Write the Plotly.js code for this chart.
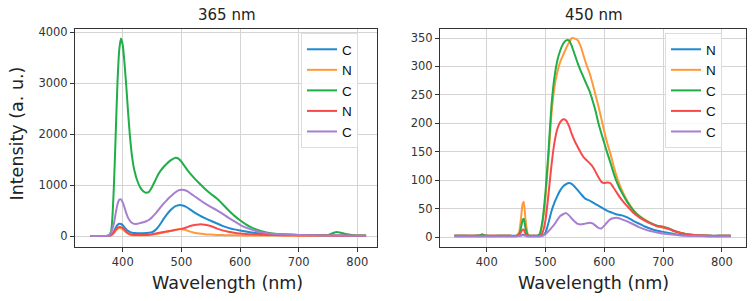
<!DOCTYPE html>
<html>
<head>
<meta charset="utf-8">
<script src="https://cdn.plot.ly/plotly-3.0.1.min.js"></script>
<style>html,body{margin:0;padding:0;background:#fff;}#chart{width:754px;height:301px;}</style>
</head>
<body>
<div id="chart"></div>
<script>
// ---- Panel A: excitation 365 nm ----
const wavelengthA = [345,360,370,375,380,385,388,391,394,397,400,403,406,409,412,416,420,425,430,435,440,445,450,455,460,465,470,475,480,485,490,495,500,505,510,520,530,540,550,560,570,580,590,600,610,620,630,640,650,660,680,700,720,740,750,755,760,765,770,775,780,790,800,815];
const blueA   = [0,0,0,2,20,90,160,215,240,235,210,170,130,100,80,65,58,55,55,55,58,62,75,110,170,250,340,420,490,545,585,605,605,590,560,480,410,350,300,250,200,160,130,110,90,70,55,45,38,32,25,20,15,12,10,10,10,9,9,8,8,7,6,5];
const orangeA = [0,0,0,2,12,60,105,140,155,150,130,100,70,45,30,20,15,15,15,15,15,18,25,35,45,58,70,82,95,110,122,132,135,125,105,70,48,35,28,22,18,15,13,12,11,10,9,9,8,8,7,6,6,5,5,5,5,5,5,5,5,5,5,5];
const greenA  = [0,0,0,5,80,1000,2000,3000,3650,3880,3750,3400,2950,2450,2000,1550,1280,1080,950,880,850,870,960,1080,1200,1290,1360,1420,1470,1510,1535,1520,1460,1380,1300,1160,1040,930,830,740,630,510,400,310,230,165,120,85,60,45,30,22,18,15,20,40,65,80,70,55,40,20,12,8];
const redA    = [0,0,0,2,15,70,120,160,178,175,155,120,85,55,38,25,20,18,18,18,20,25,35,45,58,70,80,90,100,110,120,130,140,155,175,210,228,222,195,150,110,85,65,50,40,33,28,24,20,18,14,12,10,8,8,8,7,7,7,6,6,6,5,5];
const purpleA = [0,0,0,5,60,250,450,620,710,720,660,560,450,360,300,255,238,240,255,270,290,320,370,430,500,570,640,700,760,810,860,895,910,905,880,800,720,640,570,510,440,360,290,220,165,125,90,65,50,40,28,20,15,12,10,10,10,10,10,9,8,7,6,5];
const namesA  = ["C","N","C","N","C"];

// ---- Panel B: excitation 450 nm ----
const wavelengthB = [345,360,380,388,392,396,400,420,440,450,455,458,461,463,466,470,475,480,485,490,495,500,505,510,515,520,525,530,535,540,545,550,555,560,565,570,575,580,585,590,595,600,605,610,615,620,625,630,640,650,660,670,680,690,700,710,720,740,760,780,800,815];
const blueB   = [2,2,2,2,2,2,2,2,2,2,2,3,4,4,3,2,2,2,2,2,3,8,25,45,60,72,82,89,93,95,93,88,82,76,70,66,64,61,58,55,52,49,46,44,42,40,39,38,34,28,23,18,14,11,9,7,5,3,2,2,2,2];
const orangeB = [2,2,2,2,2,2,2,2,2,2,8,30,58,62,30,5,2,2,2,4,25,70,140,215,262,290,308,320,332,342,350,349,346,335,318,302,288,270,250,230,208,185,165,148,128,110,95,82,62,47,37,30,24,19,16,14,10,5,3,2,2,2];
const greenB  = [2,2,2,3,5,3,2,2,2,2,5,15,30,32,15,3,2,2,2,5,30,80,150,230,280,310,328,340,346,346,335,320,305,292,280,268,256,240,222,200,182,165,148,132,115,100,88,78,60,46,36,29,24,20,18,15,10,5,3,2,2,2];
const redB    = [2,2,2,2,2,2,2,2,2,2,4,8,13,13,6,2,2,2,2,2,8,30,75,125,165,190,202,207,205,195,180,168,158,148,140,135,130,124,115,105,97,95,96,95,88,80,72,65,53,42,34,28,23,19,17,14,10,5,3,2,2,2];
const purpleB = [1,1,1,1,1,1,1,1,1,1,2,2,3,3,2,1,1,1,1,1,2,5,10,16,22,30,37,40,42,38,32,27,23,22,23,24,25,24,20,16,15,20,26,31,33,34,33,31,27,22,17,13,10,8,6,5,4,2,2,1,1,1];
const namesB  = ["N","N","C","C","C"];

const colors = ["#1f8ad0","#ff9a3a","#1fae47","#f94a4a","#a87fd0"];

const seriesA = [blueA, orangeA, greenA, redA, purpleA];
const seriesB = [blueB, orangeB, greenB, redB, purpleB];

const traces = [];
seriesA.forEach((ys, i) => traces.push({
  x: wavelengthA, y: ys, name: namesA[i], type: "scatter", mode: "lines",
  line: {color: colors[i], width: 2, shape: "spline", smoothing: 0.5},
  xaxis: "x", yaxis: "y", legend: "legend"
}));
seriesB.forEach((ys, i) => traces.push({
  x: wavelengthB, y: ys, name: namesB[i], type: "scatter", mode: "lines",
  line: {color: colors[i], width: 2, shape: "spline", smoothing: 0.5},
  xaxis: "x2", yaxis: "y2", legend: "legend2"
}));

const W = 754, H = 301;
const px = v => v / W;
const py = v => 1 - v / H;

const axisCommon = {
  showline: true, linecolor: "#333", linewidth: 1, mirror: true,
  ticks: "outside", ticklen: 4, tickwidth: 1, tickcolor: "#333",
  showgrid: true, gridcolor: "#d4d4d4", gridwidth: 1, zeroline: false,
  tickfont: {family: "DejaVu Sans", size: 11.5, color: "#333"}
};

const legendCommon = {
  font: {family: "Liberation Sans", size: 13.5, color: "#111"},
  bgcolor: "rgba(255,255,255,0.85)", bordercolor: "#dddddd", borderwidth: 1,
  itemwidth: 30, tracegroupgap: 0, xanchor: "left", yanchor: "top",
  itemclick: false
};

const titleFont = {family: "DejaVu Sans", size: 15, color: "#222"};
const labelFont = {family: "DejaVu Sans", size: 17.5, color: "#222"};

const layout = {
  width: W, height: H,
  margin: {l: 0, r: 0, t: 0, b: 0},
  paper_bgcolor: "#fff", plot_bgcolor: "#fff",
  showlegend: true,
  xaxis: Object.assign({}, axisCommon, {domain: [px(75), px(377)], range: [318.6, 833.6], tickvals: [400,500,600,700,800], anchor: "y"}),
  yaxis: Object.assign({}, axisCommon, {domain: [py(247), py(29)], range: [-216, 4065], tickvals: [0,1000,2000,3000,4000], anchor: "x"}),
  xaxis2: Object.assign({}, axisCommon, {domain: [px(440), px(746)], range: [320.5, 841], tickvals: [400,500,600,700,800], anchor: "y2"}),
  yaxis2: Object.assign({}, axisCommon, {domain: [py(247), py(29)], range: [-17.6, 365.9], tickvals: [0,50,100,150,200,250,300,350], anchor: "x2"}),
  legend: Object.assign({}, legendCommon, {x: px(301), y: py(33)}),
  legend2: Object.assign({}, legendCommon, {x: px(665), y: py(33)}),
  annotations: [
    {text: "365 nm", x: px(227), y: py(15), xref: "paper", yref: "paper", xanchor: "center", yanchor: "middle", showarrow: false, font: titleFont},
    {text: "450 nm", x: px(594), y: py(15), xref: "paper", yref: "paper", xanchor: "center", yanchor: "middle", showarrow: false, font: titleFont},
    {text: "Wavelength (nm)", x: px(227), y: py(283), xref: "paper", yref: "paper", xanchor: "center", yanchor: "middle", showarrow: false, font: labelFont},
    {text: "Wavelength (nm)", x: px(593), y: py(283), xref: "paper", yref: "paper", xanchor: "center", yanchor: "middle", showarrow: false, font: labelFont},
    {text: "Intensity (a. u.)", x: px(16.5), y: py(134), xref: "paper", yref: "paper", xanchor: "center", yanchor: "middle", textangle: -90, showarrow: false, font: labelFont}
  ]
};

Plotly.newPlot("chart", traces, layout, {staticPlot: true, displayModeBar: false});
</script>
</body>
</html>
